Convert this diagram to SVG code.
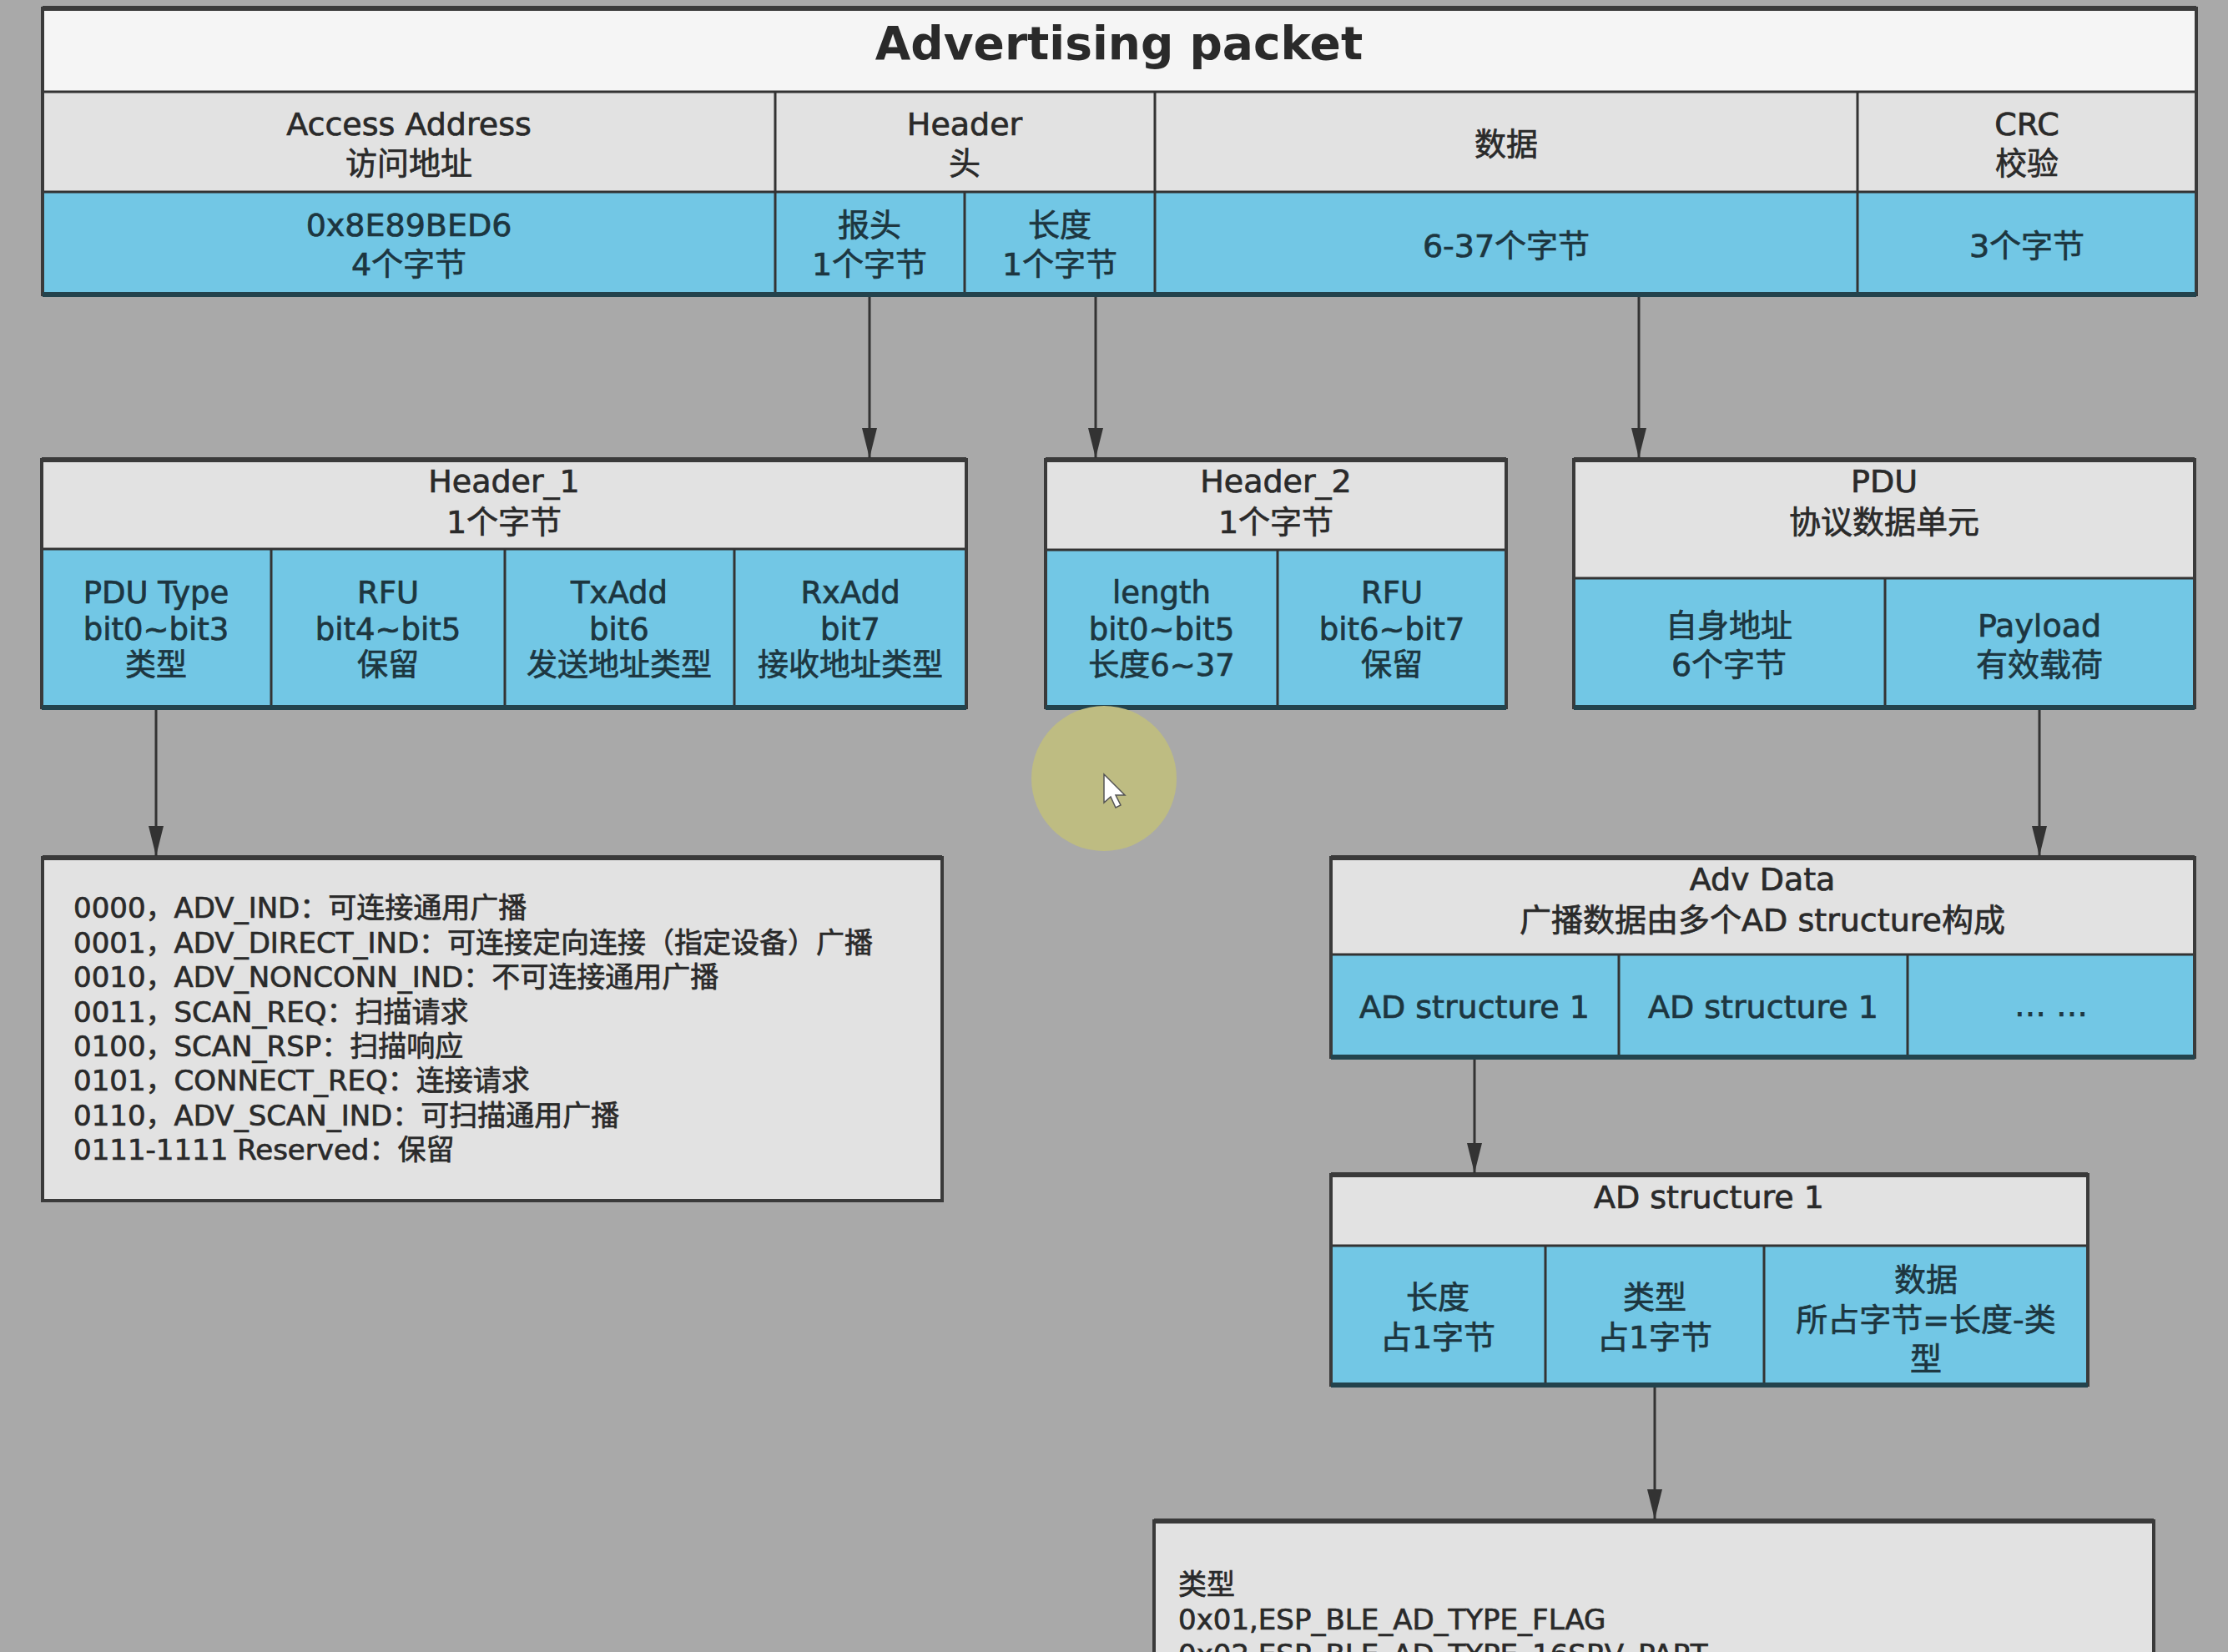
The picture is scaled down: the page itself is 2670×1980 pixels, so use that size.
<svg xmlns="http://www.w3.org/2000/svg" width="2670" height="1980" viewBox="0 0 2670 1980">
<defs>
<style>
.bg{fill:#a9a9a9}
.ft{fill:#f5f5f5}
.fh{fill:#e2e2e2}
.fb{fill:#72c7e5}
.box{fill:none;stroke:#3a3a3a;stroke-width:4}
.ln{stroke:#333333;stroke-width:3;fill:none}
.sh{stroke:#23434d;stroke-width:6}
.tp{stroke:#3a3a3a;stroke-width:6}
text{font-family:"DejaVu Sans","Noto Sans CJK SC",sans-serif;fill:#2a2a2a;stroke:#2a2a2a;stroke-width:0.7px}
.c{text-anchor:middle}
.s38{font-size:38px}
.s37{font-size:37px}
.s34{font-size:34px}
.bt{fill:#1d3640;stroke:#1d3640}
.title{font-size:55px;font-weight:bold;stroke-width:0}
.conn{stroke:#333333;stroke-width:3;fill:none}
</style>
<marker id="ah" markerUnits="userSpaceOnUse" markerWidth="36" markerHeight="18" refX="36" refY="9" orient="auto">
<path d="M0,0 L36,9 L0,18 Z" fill="#333333"/>
</marker>
</defs>
<rect class="bg" x="0" y="0" width="2670" height="1980"/>

<g id="advertising-packet">
<rect class="ft" x="51" y="10" width="2581" height="100"/>
<rect class="fh" x="51" y="110" width="2581" height="120"/>
<rect class="fb" x="51" y="230" width="2581" height="123"/>
<line class="ln" x1="51" y1="110" x2="2632" y2="110"/>
<line class="ln" x1="51" y1="230" x2="2632" y2="230"/>
<line class="ln" x1="929" y1="110" x2="929" y2="353"/>
<line class="ln" x1="1384" y1="110" x2="1384" y2="353"/>
<line class="ln" x1="2226" y1="110" x2="2226" y2="353"/>
<line class="ln" x1="1156" y1="230" x2="1156" y2="353"/>
<rect class="box" x="51" y="10" width="2581" height="343"/>
<line class="tp" x1="51" y1="10" x2="2632" y2="10"/>
<line class="sh" x1="51" y1="353" x2="2632" y2="353"/>
<text class="title c" x="1341" y="71">Advertising packet</text>
<text class="s38 c" x="490" y="162">Access Address</text>
<text class="s38 c" x="490" y="209">访问地址</text>
<text class="s38 c" x="1156" y="162">Header</text>
<text class="s38 c" x="1156" y="209">头</text>
<text class="s38 c" x="1805" y="186">数据</text>
<text class="s38 c" x="2429" y="162">CRC</text>
<text class="s38 c" x="2429" y="209">校验</text>
<text class="s38 c bt" x="490" y="283">0x8E89BED6</text>
<text class="s38 c bt" x="490" y="330">4个字节</text>
<text class="s38 c bt" x="1042" y="283">报头</text>
<text class="s38 c bt" x="1042" y="330">1个字节</text>
<text class="s38 c bt" x="1270" y="283">长度</text>
<text class="s38 c bt" x="1270" y="330">1个字节</text>
<text class="s38 c bt" x="1805" y="308">6-37个字节</text>
<text class="s38 c bt" x="2429" y="308">3个字节</text>
</g>

<g id="header-1">
<rect class="fh" x="50" y="551" width="1108" height="107"/>
<rect class="fb" x="50" y="658" width="1108" height="190"/>
<line class="ln" x1="50" y1="658" x2="1158" y2="658"/>
<line class="ln" x1="325" y1="658" x2="325" y2="848"/>
<line class="ln" x1="605" y1="658" x2="605" y2="848"/>
<line class="ln" x1="880" y1="658" x2="880" y2="848"/>
<rect class="box" x="50" y="551" width="1108" height="297"/>
<line class="tp" x1="50" y1="551" x2="1158" y2="551"/>
<line class="sh" x1="50" y1="848" x2="1158" y2="848"/>
<text class="s38 c" x="604" y="590">Header_1</text>
<text class="s38 c" x="604" y="639">1个字节</text>
<text class="s37 c bt" x="187" y="723">PDU Type</text>
<text class="s37 c bt" x="187" y="767">bit0~bit3</text>
<text class="s37 c bt" x="187" y="810">类型</text>
<text class="s37 c bt" x="465" y="723">RFU</text>
<text class="s37 c bt" x="465" y="767">bit4~bit5</text>
<text class="s37 c bt" x="465" y="810">保留</text>
<text class="s37 c bt" x="742" y="723">TxAdd</text>
<text class="s37 c bt" x="742" y="767">bit6</text>
<text class="s37 c bt" x="742" y="810">发送地址类型</text>
<text class="s37 c bt" x="1019" y="723">RxAdd</text>
<text class="s37 c bt" x="1019" y="767">bit7</text>
<text class="s37 c bt" x="1019" y="810">接收地址类型</text>
</g>

<g id="header-2">
<rect class="fh" x="1253" y="551" width="552" height="108"/>
<rect class="fb" x="1253" y="659" width="552" height="189"/>
<line class="ln" x1="1253" y1="659" x2="1805" y2="659"/>
<line class="ln" x1="1531" y1="659" x2="1531" y2="848"/>
<rect class="box" x="1253" y="551" width="552" height="297"/>
<line class="tp" x1="1253" y1="551" x2="1805" y2="551"/>
<line class="sh" x1="1253" y1="848" x2="1805" y2="848"/>
<text class="s38 c" x="1529" y="590">Header_2</text>
<text class="s38 c" x="1529" y="639">1个字节</text>
<text class="s37 c bt" x="1392" y="723">length</text>
<text class="s37 c bt" x="1392" y="767">bit0~bit5</text>
<text class="s37 c bt" x="1392" y="810">长度6~37</text>
<text class="s37 c bt" x="1668" y="723">RFU</text>
<text class="s37 c bt" x="1668" y="767">bit6~bit7</text>
<text class="s37 c bt" x="1668" y="810">保留</text>
</g>

<g id="pdu">
<rect class="fh" x="1886" y="551" width="744" height="142"/>
<rect class="fb" x="1886" y="693" width="744" height="155"/>
<line class="ln" x1="1886" y1="693" x2="2630" y2="693"/>
<line class="ln" x1="2259" y1="693" x2="2259" y2="848"/>
<rect class="box" x="1886" y="551" width="744" height="297"/>
<line class="tp" x1="1886" y1="551" x2="2630" y2="551"/>
<line class="sh" x1="1886" y1="848" x2="2630" y2="848"/>
<text class="s38 c" x="2258" y="590">PDU</text>
<text class="s38 c" x="2258" y="639">协议数据单元</text>
<text class="s38 c bt" x="2072" y="763">自身地址</text>
<text class="s38 c bt" x="2072" y="810">6个字节</text>
<text class="s38 c bt" x="2444" y="763">Payload</text>
<text class="s38 c bt" x="2444" y="810">有效载荷</text>
</g>

<g id="pdu-types">
<rect class="fh" x="51" y="1028" width="1078" height="411"/>
<rect class="box" x="51" y="1028" width="1078" height="411"/>
<line class="tp" x1="51" y1="1028" x2="1129" y2="1028"/>
<text class="s34" x="88" y="1100">0000，ADV_IND：可连接通用广播</text>
<text class="s34" x="88" y="1142">0001，ADV_DIRECT_IND：可连接定向连接（指定设备）广播</text>
<text class="s34" x="88" y="1183">0010，ADV_NONCONN_IND：不可连接通用广播</text>
<text class="s34" x="88" y="1225">0011，SCAN_REQ：扫描请求</text>
<text class="s34" x="88" y="1266">0100，SCAN_RSP：扫描响应</text>
<text class="s34" x="88" y="1307">0101，CONNECT_REQ：连接请求</text>
<text class="s34" x="88" y="1349">0110，ADV_SCAN_IND：可扫描通用广播</text>
<text class="s34" x="88" y="1390">0111-1111 Reserved：保留</text>
</g>

<g id="adv-data">
<rect class="fh" x="1595" y="1028" width="1035" height="116"/>
<rect class="fb" x="1595" y="1144" width="1035" height="123"/>
<line class="ln" x1="1595" y1="1144" x2="2630" y2="1144"/>
<line class="ln" x1="1940" y1="1144" x2="1940" y2="1267"/>
<line class="ln" x1="2286" y1="1144" x2="2286" y2="1267"/>
<rect class="box" x="1595" y="1028" width="1035" height="239"/>
<line class="tp" x1="1595" y1="1028" x2="2630" y2="1028"/>
<line class="sh" x1="1595" y1="1267" x2="2630" y2="1267"/>
<text class="s38 c" x="2112" y="1067">Adv Data</text>
<text class="s38 c" x="2112" y="1116">广播数据由多个AD structure构成</text>
<text class="s38 c bt" x="1767" y="1220">AD structure 1</text>
<text class="s38 c bt" x="2113" y="1220">AD structure 1</text>
<text class="s38 c bt" x="2458" y="1218">… …</text>
</g>

<g id="ad-structure">
<rect class="fh" x="1595" y="1408" width="907" height="85"/>
<rect class="fb" x="1595" y="1493" width="907" height="167"/>
<line class="ln" x1="1595" y1="1493" x2="2502" y2="1493"/>
<line class="ln" x1="1852" y1="1493" x2="1852" y2="1660"/>
<line class="ln" x1="2114" y1="1493" x2="2114" y2="1660"/>
<rect class="box" x="1595" y="1408" width="907" height="252"/>
<line class="tp" x1="1595" y1="1408" x2="2502" y2="1408"/>
<line class="sh" x1="1595" y1="1660" x2="2502" y2="1660"/>
<text class="s38 c" x="2048" y="1448">AD structure 1</text>
<text class="s38 c bt" x="1723" y="1568">长度</text>
<text class="s38 c bt" x="1723" y="1616">占1字节</text>
<text class="s38 c bt" x="1983" y="1568">类型</text>
<text class="s38 c bt" x="1983" y="1616">占1字节</text>
<text class="s38 c bt" x="2308" y="1547">数据</text>
<text class="s38 c bt" x="2308" y="1595">所占字节=长度-类</text>
<text class="s38 c bt" x="2308" y="1642">型</text>
</g>

<g id="ad-types">
<rect class="fh" x="1383" y="1823" width="1198" height="200"/>
<rect class="box" x="1383" y="1823" width="1198" height="200"/>
<line class="tp" x1="1383" y1="1823" x2="2581" y2="1823"/>
<text class="s34" x="1412" y="1911">类型</text>
<text class="s34" x="1412" y="1953">0x01,ESP_BLE_AD_TYPE_FLAG</text>
<text class="s34" x="1412" y="1995">0x02,ESP_BLE_AD_TYPE_16SRV_PART</text>
</g>

<g id="connectors">
<line class="conn" x1="1042" y1="356" x2="1042" y2="549" marker-end="url(#ah)"/>
<line class="conn" x1="1313" y1="356" x2="1313" y2="549" marker-end="url(#ah)"/>
<line class="conn" x1="1964" y1="356" x2="1964" y2="549" marker-end="url(#ah)"/>
<line class="conn" x1="187" y1="851" x2="187" y2="1026" marker-end="url(#ah)"/>
<line class="conn" x1="2444" y1="851" x2="2444" y2="1026" marker-end="url(#ah)"/>
<line class="conn" x1="1767" y1="1270" x2="1767" y2="1406" marker-end="url(#ah)"/>
<line class="conn" x1="1983" y1="1663" x2="1983" y2="1821" marker-end="url(#ah)"/>
</g>

<g id="cursor">
<circle cx="1323" cy="933" r="87" fill="#bebc82"/>
<path d="M1323,928 L1323,962 L1331,955 L1337,968 L1343,965 L1337,953 L1348,953 Z" fill="#ffffff" stroke="#555555" stroke-width="1.5"/>
</g>
</svg>
